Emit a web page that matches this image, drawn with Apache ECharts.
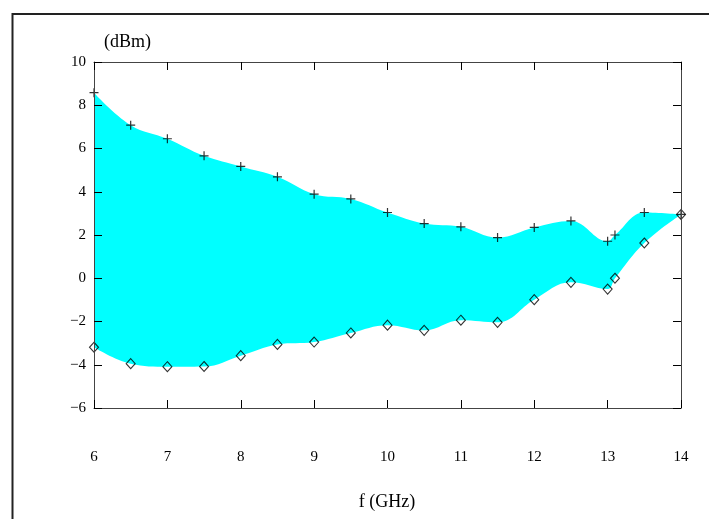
<!DOCTYPE html>
<html>
<head>
<meta charset="utf-8">
<script src="https://cdn.jsdelivr.net/npm/echarts@6/dist/echarts.min.js"></script>
<style>
html,body{margin:0;padding:0;background:#fff;}
#chart{width:709px;height:519px;}
</style>
</head>
<body>
<div id="chart"></div>
<script>
// Frequencies (GHz)
var freqs = [6, 6.5, 7, 7.5, 8, 8.5, 9, 9.5, 10, 10.5, 11, 11.5, 12, 12.5, 13, 13.1, 13.5, 14];
// Upper bound (dBm), "+" markers
var upperVals = [8.58, 7.08, 6.45, 5.66, 5.17, 4.69, 3.89, 3.67, 3.04, 2.53, 2.38, 1.88, 2.35, 2.65, 1.71, 2.0, 3.04, 2.95];
// Lower bound (dBm), diamond markers
var lowerVals = [-3.19, -3.95, -4.09, -4.08, -3.58, -3.06, -2.95, -2.53, -2.17, -2.41, -1.94, -2.04, -0.99, -0.19, -0.50, 0.0, 1.63, 2.95];
// Axis ranges
var xMin = 6, xMax = 14, xStep = 1;
var yMin = -6, yMax = 10, yStep = 2;
var xTitle = 'f (GHz)';
var yTitle = '(dBm)';

var serif = '"Liberation Serif", "DejaVu Serif", serif';

var lowerData = freqs.map(function (f, i) { return [f, lowerVals[i]]; });
var upperData = freqs.map(function (f, i) { return [f, upperVals[i]]; });

function fmtY(v) { return v < 0 ? '\u2212' + (-v) : String(v); }

var axisLineStyle = { color: '#444', width: 1 };
var tickStyle = { show: true, inside: true, length: 8, lineStyle: { color: '#000', width: 1 } };

var chart = echarts.init(document.getElementById('chart'), null, { renderer: 'canvas' });
chart.setOption({
  animation: false,
  backgroundColor: '#fff',
  grid: { left: 94, top: 62, right: 28, bottom: 111, containLabel: false },
  xAxis: [
    {
      type: 'value', position: 'bottom', min: xMin, max: xMax, interval: xStep, z: 10,
      axisLine: { show: true, onZero: false, lineStyle: axisLineStyle },
      axisTick: tickStyle,
      splitLine: { show: false },
      axisLabel: { margin: 42, color: '#000', fontFamily: serif, fontSize: 15 }
    },
    {
      type: 'value', position: 'top', min: xMin, max: xMax, interval: xStep, z: 10,
      axisLine: { show: true, onZero: false, lineStyle: axisLineStyle },
      axisTick: tickStyle,
      splitLine: { show: false },
      axisLabel: { show: false }
    }
  ],
  yAxis: [
    {
      type: 'value', position: 'left', min: yMin, max: yMax, interval: yStep, z: 10,
      axisLine: { show: true, onZero: false, lineStyle: axisLineStyle },
      axisTick: tickStyle,
      splitLine: { show: false },
      axisLabel: { margin: 8, color: '#000', fontFamily: serif, fontSize: 15, formatter: fmtY }
    },
    {
      type: 'value', position: 'right', min: yMin, max: yMax, interval: yStep, z: 10,
      axisLine: { show: true, onZero: false, lineStyle: axisLineStyle },
      axisTick: tickStyle,
      splitLine: { show: false },
      axisLabel: { show: false }
    }
  ],
  series: [
    {
      name: 'upperFill', type: 'line', data: upperData,
      smooth: 0.4, showSymbol: false, lineStyle: { width: 0, opacity: 0 },
      areaStyle: { color: '#00ffff', opacity: 1, origin: 'start' }, silent: true, z: 1
    },
    {
      name: 'lowerFill', type: 'line', data: lowerData,
      smooth: 0.4, showSymbol: false, lineStyle: { width: 0, opacity: 0 },
      areaStyle: { color: '#ffffff', opacity: 1, origin: 'start' }, silent: true, z: 2
    },
    {
      name: 'upper', type: 'scatter', data: upperData, z: 5,
      symbol: 'path://M0,5L10,5M5,0L5,10', symbolSize: 9,
      itemStyle: { color: 'none', borderColor: '#000', borderWidth: 1.2 }
    },
    {
      name: 'lower', type: 'scatter', data: lowerData, z: 5,
      symbol: 'diamond', symbolSize: [9, 10],
      itemStyle: { color: 'rgba(0,0,0,0)', borderColor: '#000', borderWidth: 1.1 }
    }
  ],
  graphic: [
    { type: 'polyline', shape: { points: [[12.5, 519], [12.5, 14], [709, 14]] },
      style: { stroke: '#222', lineWidth: 2, fill: null }, z: 20 },
    { type: 'text', left: 104, top: 33, style: { text: yTitle, fill: '#000', font: '18px ' + serif } },
    { type: 'text', x: 387, y: 502, style: { text: xTitle, fill: '#000', font: '18px ' + serif, textAlign: 'center', textVerticalAlign: 'middle' } }
  ]
});
</script>
</body>
</html>
